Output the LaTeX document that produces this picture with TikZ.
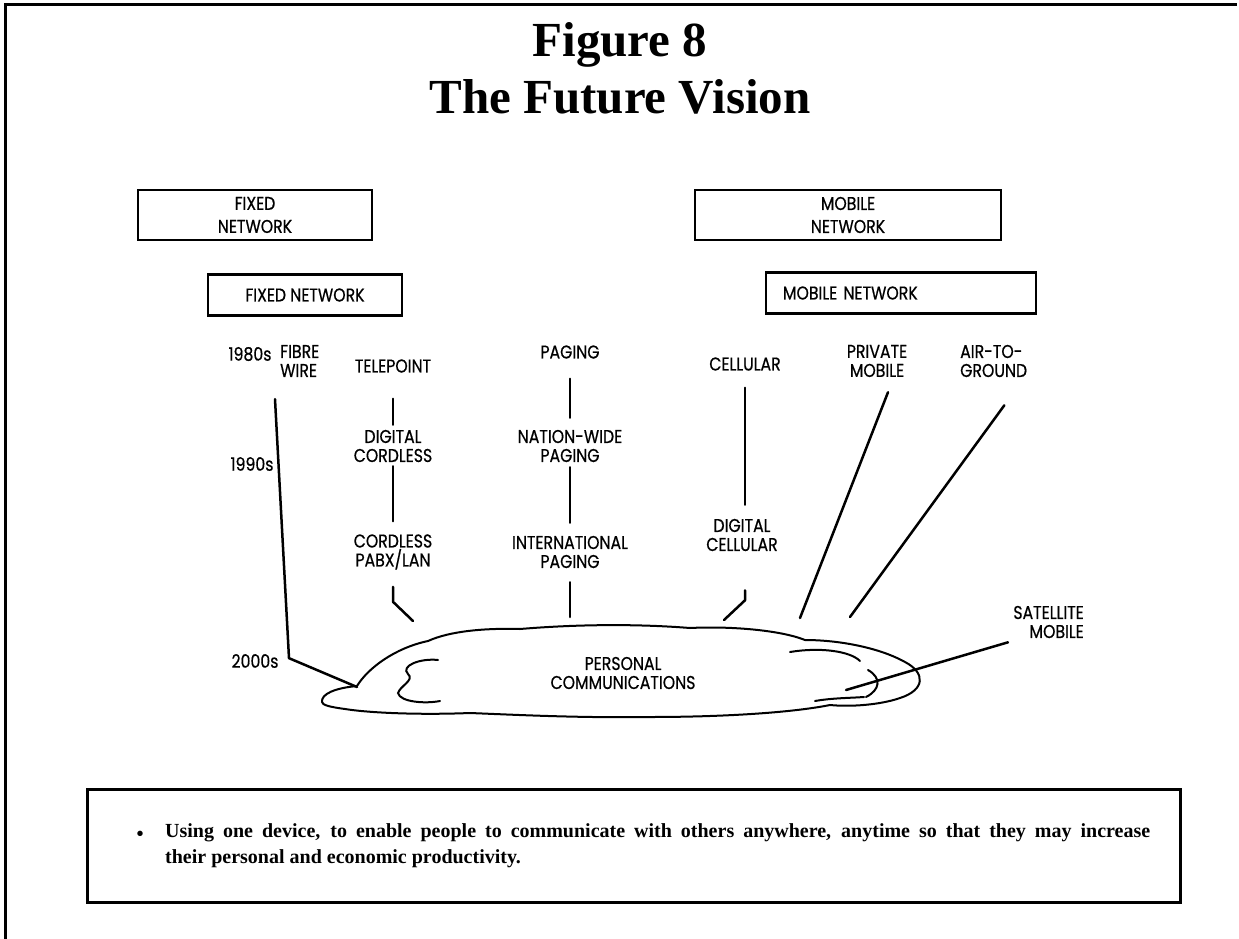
\documentclass[tikz,border=0pt]{standalone}
\usepackage{fontspec}
\setmainfont{Liberation Serif}
\newfontfamily\lblfont[FakeStretch=0.85,FakeBold=0.6]{Poppins}
\begin{document}
\begin{tikzpicture}[x=1pt,y=-1pt,
  lbl/.style={font=\lblfont\fontsize{18.5}{19}\selectfont, inner sep=0pt, align=center},
  conn/.style={line width=2.5pt, line cap=round, line join=round},
  netbox/.style={draw, line width=2.2pt, inner sep=0pt, align=center,
                 font=\lblfont\fontsize{18.5}{23}\selectfont},
  titlefont/.style={font=\bfseries\fontsize{49}{50}\selectfont, inner sep=0pt},
  notefont/.style={font=\bfseries\fontsize{20}{26}\selectfont, inner sep=0pt, align=left},
  cloudline/.style={line width=2pt, line cap=round}]
\useasboundingbox (0,0) rectangle (1239,939);

% page frame (top and left edges only)
\draw[line width=3pt] (5,939) -- (5,5) -- (1237,5);

% heading
\node[titlefont] (fig) at (620,45) {Figure 8};
\node[titlefont] (vision) at (620,97) {The Future Vision};

% network boxes
\node[netbox, minimum width=234pt, minimum height=50pt] (fixedbig) at (255,215) {FIXED\\NETWORK};
\node[netbox, minimum width=306pt, minimum height=50pt] (mobilebig) at (848,215) {MOBILE\\NETWORK};
\node[netbox, minimum width=194pt, minimum height=41pt] (fixedsmall) at (305,295) {FIXED NETWORK};
\node[netbox, minimum width=270pt, minimum height=41pt, align=left, text width=236pt] (mobilesmall) at (901,293) {MOBILE NETWORK};

% decades
\node[lbl] (d80) at (250,354) {1980s};
\node[lbl] (d90) at (252,464) {1990s};
\node[lbl] (d00) at (255,661) {2000s};

% technologies
\node[lbl, align=left, anchor=west] (fibre) at (280,361) {FIBRE\\WIRE};
\node[lbl] (tele) at (393,366) {TELEPOINT};
\node[lbl] (paging) at (570,352) {PAGING};
\node[lbl] (cell) at (745,364) {CELLULAR};
\node[lbl] (priv) at (877,361) {PRIVATE\\MOBILE};
\node[lbl, align=left, anchor=west] (air) at (960,361) {AIR-TO-\\GROUND};
\node[lbl] (dcord) at (393,446) {DIGITAL\\CORDLESS};
\node[lbl] (nwpag) at (570,446) {NATION-WIDE\\PAGING};
\node[lbl] (cpabx) at (393,552) {CORDLESS\\PABX/LAN};
\node[lbl] (intpag) at (570,552) {INTERNATIONAL\\PAGING};
\node[lbl] (dcell) at (742,535) {DIGITAL\\CELLULAR};
\node[lbl, align=right, anchor=east] (sat) at (1084,622) {SATELLITE\\MOBILE};

% personal communications cloud
\draw[cloudline] (322,702)
  .. controls (321,694) and (335,688) .. (357,686)
  .. controls (368,668) and (395,648) .. (428,641)
  .. controls (450,631) and (485,628) .. (520,629)
  .. controls (580,624) and (640,624) .. (690,628)
  .. controls (730,626) and (780,630) .. (805,640)
  .. controls (840,640) and (880,648) .. (905,662)
  .. controls (926,673) and (925,690) .. (900,698)
  .. controls (880,705) and (850,707) .. (830,705)
  .. controls (790,713) and (720,717) .. (650,717)
  .. controls (580,718) and (520,715) .. (470,713)
  .. controls (420,715) and (370,713) .. (345,709)
  .. controls (330,707) and (322,705) .. (322,702);
\draw[cloudline] (438,660) .. controls (420,658) and (400,666) .. (408,674)
  .. controls (415,680) and (400,686) .. (398,693)
  .. controls (400,702) and (425,704) .. (440,701);
\draw[cloudline] (790,652) .. controls (820,647) and (850,651) .. (860,661);
\draw[cloudline] (868,670) .. controls (882,678) and (880,690) .. (866,697);
\draw[cloudline] (815,701) .. controls (832,698) and (850,698) .. (864,697);
\node[lbl] (pc) at (623,673) {PERSONAL\\COMMUNICATIONS};

% points where the paths reach the cloud
\coordinate (cFibre) at (357,687);
\coordinate (cTele) at (413,621);
\coordinate (cPaging) at (570,617);
\coordinate (cCell) at (724,620);
\coordinate (cPriv) at (800,618);
\coordinate (cAir) at (850,617);
\coordinate (cSat) at (846,690);

% evolution paths
\draw[conn] ([xshift=-5pt,yshift=-22pt]fibre.south west) -- ++(14,259) -- (cFibre);
\draw[conn] ([yshift=-26pt]tele.south) -- ([yshift=5pt]dcord.north);
\draw[conn] ([yshift=-4pt]dcord.south) -- ([yshift=13pt]cpabx.north);
\draw[conn] ([yshift=-17pt]cpabx.south) -- ++(0,15) -- (cTele);
\draw[conn] ([yshift=-20pt]paging.south) -- ([yshift=12pt]nwpag.north);
\draw[conn] ([yshift=-5pt]nwpag.south) -- ([yshift=13pt]intpag.north);
\draw[conn] ([yshift=-14pt]intpag.south) -- (cPaging);
\draw[conn] ([xshift=0pt,yshift=-17pt]cell.south) -- ([xshift=3pt,yshift=14pt]dcell.north);
\draw[conn] ([xshift=3pt,yshift=-39pt]dcell.south) -- ++(0,10) -- (cCell);
\draw[conn] ([xshift=11pt,yshift=-15pt]priv.south) -- (cPriv);
\draw[conn] ([xshift=-23pt,yshift=-28pt]air.south east) -- (cAir);
\draw[conn] ([xshift=-76pt,yshift=-4pt]sat.south east) -- (cSat);

% summary box
\node[draw, line width=2.2pt, minimum width=1093pt, minimum height=113pt, inner sep=0pt] (note) at (634,846) {};
\node[notefont] (bullet) at (140,836) {\textbullet};
\node[notefont, anchor=north west] (notetext) at (165,823)
  {\makebox[985pt][s]{Using one device, to enable people to communicate with others anywhere, anytime so that they may increase}\\
   their personal and economic productivity.};
\end{tikzpicture}
\end{document}
